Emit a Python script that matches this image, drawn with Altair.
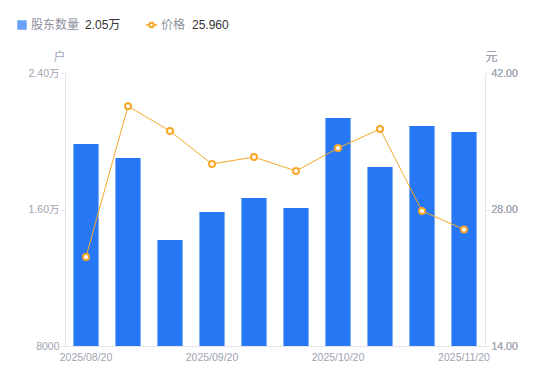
import altair as alt
import pandas as pd

dates = ["2025/08/20", "2025/08/31", "2025/09/10", "2025/09/20", "2025/09/30",
         "2025/10/10", "2025/10/20", "2025/10/31", "2025/11/10", "2025/11/20"]
holders = [19840, 19020, 14210, 15850, 16680, 16090, 21360, 18490, 20900, 20540]
prices = [23.13, 38.6, 36.05, 32.67, 33.38, 31.95, 34.3, 36.26, 27.85, 25.96]
shown_labels = ["2025/08/20", "2025/09/20", "2025/10/20", "2025/11/20"]

df = pd.DataFrame({"date": dates, "holders": holders, "price": prices})

FONT = "Liberation Sans, Noto Sans CJK SC, sans-serif"
BLUE = "#2878F5"
ORANGE = "#F7A82B"
GREY = "#A0A4B0"
AXIS_LINE = "#E3E5EA"

W, H = 420, 273

label_test = " || ".join([f"datum.value == '{d}'" for d in shown_labels])
xenc = alt.X("date:N", sort=dates, scale=alt.Scale(paddingInner=0.4, paddingOuter=0.2),
             axis=alt.Axis(title=None, labelAngle=0, labelColor=GREY, labelFont=FONT,
                           labelFontSize=10.5, domainColor=AXIS_LINE, ticks=False,
                           labelPadding=6, labelOverlap=False,
                           labelExpr=f"({label_test}) ? datum.label : ''"))

bars = alt.Chart(df).mark_bar(color=BLUE, clip=True).encode(
    x=xenc,
    y=alt.Y("holders:Q", scale=alt.Scale(domain=[8000, 24000], nice=False, zero=False),
            axis=alt.Axis(values=[8000, 16000, 24000], title="户", titleAngle=0,
                          titleX=-6, titleY=-10, titleAlign="center", titleBaseline="bottom",
                          titleColor=GREY, titleFont=FONT, titleFontSize=12, titleFontWeight="normal",
                          labelExpr="datum.value >= 10000 ? format(datum.value/10000, '.2f') + '万' : format(datum.value, 'd')",
                          labelColor=GREY, labelFont=FONT, labelFontSize=10.5,
                          domainColor=AXIS_LINE, tickColor=AXIS_LINE, tickSize=4,
                          grid=False, labelPadding=2)),
)

yprice = alt.Y("price:Q", scale=alt.Scale(domain=[14, 42], nice=False, zero=False),
               axis=alt.Axis(values=[14, 28, 42], format=".2f", title="元", orient="right",
                             titleAngle=0, titleX=6, titleY=-10, titleAlign="center",
                             titleBaseline="bottom", titleColor=GREY, titleFont=FONT,
                             titleFontSize=12, titleFontWeight="normal",
                             labelColor=GREY, labelFont=FONT, labelFontSize=10.5,
                             domainColor=AXIS_LINE, tickColor=AXIS_LINE, tickSize=4,
                             grid=False, labelPadding=2))

line = alt.Chart(df).mark_line(color=ORANGE, strokeWidth=1).encode(x=xenc, y=yprice)
pts = alt.Chart(df).mark_point(color=ORANGE, filled=True, fill="white", stroke=ORANGE,
                               strokeWidth=2, size=36, opacity=1).encode(x=xenc, y=yprice)

legdf = pd.DataFrame({"k": [0]})
base = alt.Chart(legdf)
LY = -48
sq = base.mark_square(color=BLUE, size=90, cornerRadius=2).encode(x=alt.value(-43), y=alt.value(LY))
t1 = base.mark_text(align="left", baseline="middle", font=FONT, fontSize=12, color="#8C909C").encode(
    x=alt.value(-34), y=alt.value(LY), text=alt.value("股东数量"))
t2 = base.mark_text(align="left", baseline="middle", font=FONT, fontSize=12, color="#333333").encode(
    x=alt.value(20), y=alt.value(LY), text=alt.value(f"{holders[-1]/10000:.2f}万"))
lg = base.mark_rule(color=ORANGE, strokeWidth=1.5).encode(
    x=alt.value(81), x2=alt.value(92), y=alt.value(LY))
lp = base.mark_point(color=ORANGE, filled=True, fill="white", stroke=ORANGE, strokeWidth=2,
                     size=20, opacity=1).encode(x=alt.value(86.5), y=alt.value(LY))
t3 = base.mark_text(align="left", baseline="middle", font=FONT, fontSize=12, color="#8C909C").encode(
    x=alt.value(96), y=alt.value(LY), text=alt.value("价格"))
t4 = base.mark_text(align="left", baseline="middle", font=FONT, fontSize=12, color="#333333").encode(
    x=alt.value(127), y=alt.value(LY), text=alt.value(f"{prices[-1]:.3f}"))

chart = alt.layer(bars, line, pts, sq, t1, t2, lg, lp, t3, t4).resolve_scale(
    y="independent"
).properties(
    width=W, height=H,
    background="white",
    autosize=alt.AutoSizeParams(type="none"),
    padding={"left": 57, "top": 65, "right": 50, "bottom": 20},
).configure_view(strokeWidth=0)

chart.save("out.html", embed_options={"renderer": "svg", "actions": False})
